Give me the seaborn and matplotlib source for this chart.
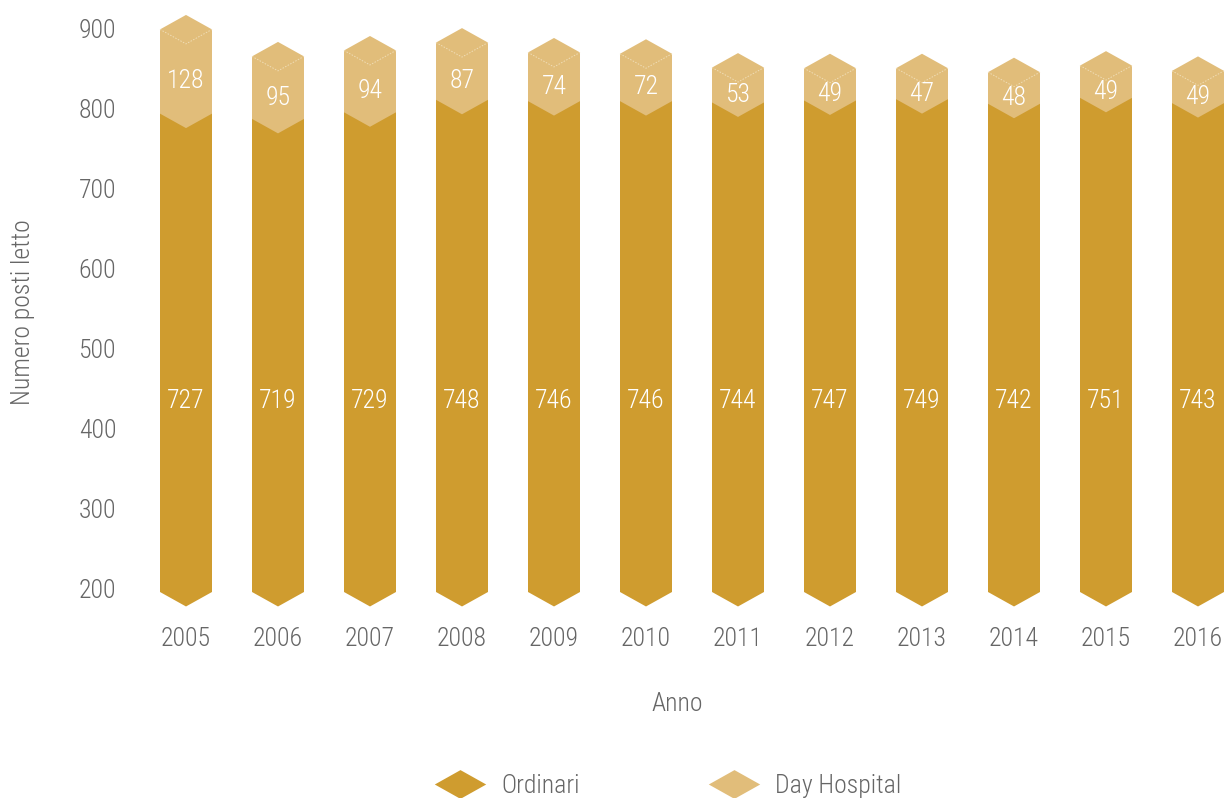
import matplotlib
matplotlib.use("Agg")
import matplotlib.pyplot as plt
from matplotlib.patches import Polygon
from matplotlib.lines import Line2D
from matplotlib.path import Path
import seaborn as sns
import pandas as pd

years = ["2005", "2006", "2007", "2008", "2009", "2010",
         "2011", "2012", "2013", "2014", "2015", "2016"]
ordinari = [727, 719, 729, 748, 746, 746, 744, 747, 749, 742, 751, 743]
day_hospital = [128, 95, 94, 87, 74, 72, 53, 49, 47, 48, 49, 49]
y_ticks = [200, 300, 400, 500, 600, 700, 800, 900]

C_ORD = "#CF9C2F"
C_DH = "#E1BD7A"
C_TXT = "#666666"

sns.set_theme(style="white")
plt.rcParams["font.family"] = ["Roboto Condensed", "Liberation Sans Narrow", "Roboto", "DejaVu Sans"]
plt.rcParams["font.weight"] = "light"
plt.rcParams["axes.labelweight"] = "light"

df = pd.DataFrame({"Anno": years, "Ordinari": ordinari, "Day Hospital": day_hospital})
df["Totale"] = df["Ordinari"] + df["Day Hospital"]

W, H = 1229, 798
fig = plt.figure(figsize=(W / 100, H / 100), dpi=100)
rect = [140 / W, (H - 620) / H, (W - 140) / W, 620 / H]
ax = fig.add_axes(rect)

FS = 18.5
d = 22  # chevron depth (data units)

sns.barplot(data=df, x="Anno", y="Totale", color=C_DH, width=0.565, ax=ax,
            saturation=1, linewidth=0)
n_dh = len(ax.patches)
sns.barplot(data=df, x="Anno", y="Ordinari", color=C_ORD, width=0.565, ax=ax,
            saturation=1, linewidth=0)

patches = list(ax.patches)
for i, p in enumerate(patches):
    x0 = p.get_x()
    w = p.get_width()
    h = p.get_height()
    l, r, c = x0, x0 + w, x0 + w / 2
    p.remove()
    if i < n_dh:
        verts = [(l, 0), (r, 0), (r, h), (c, h + d), (l, h)]
        ax.add_patch(Polygon(verts, closed=True, facecolor=C_DH, edgecolor="none", zorder=2))
        ax.plot([l, c, r], [h, h - d, h], color="#F0DDB6", lw=0.7, ls=(0, (1.5, 1.5)), zorder=3)
    else:
        verts = [(l, 0), (c, -d), (r, 0), (r, h), (c, h - d), (l, h)]
        ax.add_patch(Polygon(verts, closed=True, facecolor=C_ORD, edgecolor="none", zorder=4))

for i, (o, dh) in enumerate(zip(ordinari, day_hospital)):
    ax.text(i, 290, str(o), ha="center", va="center", color="white", fontsize=FS, zorder=6)
    ax.text(i, o + dh / 2 - 15, str(dh), ha="center", va="center", color="white", fontsize=FS, zorder=6)

ax.set_xlim(-0.5, (W - 186) / 92)
ax.set_ylim((592 - 620) / 0.658, 592 / 0.658)
ax.set_yticks([])
ax.set_ylabel("")
ax.set_xlabel("Anno", fontsize=FS, color=C_TXT, fontweight="light")
ax.xaxis.set_label_coords((677 - 140) / (W - 140), (620 - 704) / 620)
ax.xaxis.label.set_va("center")
ax.tick_params(axis="x", length=0, pad=5, labelsize=FS, labelcolor=C_TXT)
for s in ax.spines.values():
    s.set_visible(False)
ax.patch.set_alpha(0)

axy = ax.twinx()
axy.yaxis.tick_left()
axy.set_ylim(200 - 32 / 0.8, 200 + 588 / 0.8)
axy.set_yticks(y_ticks)
axy.set_yticklabels([str(t) for t in y_ticks])
axy.tick_params(axis="y", length=0, pad=17, labelsize=FS, labelcolor=C_TXT)
for s in axy.spines.values():
    s.set_visible(False)

fig.text(23 / W, 1 - 312 / H, "Numero posti letto", rotation=90, ha="center", va="center",
         fontsize=FS, color=C_TXT, fontweight="light")

diamond = Path([(-1, 0), (0, 0.56), (1, 0), (0, -0.56), (-1, 0)],
               [Path.MOVETO, Path.LINETO, Path.LINETO, Path.LINETO, Path.CLOSEPOLY])
handles = [Line2D([], [], ls="none", marker=diamond, markersize=37, markerfacecolor=C_ORD,
                  markeredgewidth=0),
           Line2D([], [], ls="none", marker=diamond, markersize=37, markerfacecolor=C_DH,
                  markeredgewidth=0)]
fig.legend(handles, ["Ordinari", "Day Hospital"], loc="center",
           bbox_to_anchor=(668 / W, 1 - 786 / H), ncol=2, frameon=False,
           fontsize=FS, labelcolor=C_TXT, handlelength=2.0, handletextpad=0.6,
           columnspacing=5.0)

fig.savefig("out.png", dpi=100)
